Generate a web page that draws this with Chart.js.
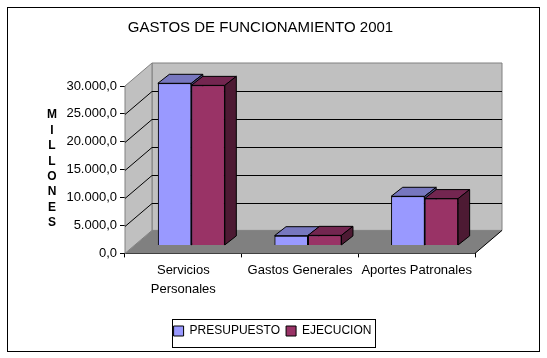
<!DOCTYPE html>
<html>
<head>
<meta charset="utf-8">
<title>Gastos de funcionamiento 2001</title>
<script src="https://cdn.jsdelivr.net/npm/chart.js@4"></script>
<style>
html, body { margin: 0; padding: 0; background: #fff; }
canvas { display: block; }
</style>
</head>
<body>
<canvas id="chart" width="547" height="358"></canvas>
<script>
const categories = [['Servicios', 'Personales'], 'Gastos Generales', 'Aportes Patronales'];
const presupuesto = [29050, 1740, 8800];
const ejecucion = [28680, 1800, 8390];
const yTicks = [0, 5000, 10000, 15000, 20000, 25000, 30000];
const yLetters = ['M', 'I', 'L', 'L', 'O', 'N', 'E', 'S'];
const chartTitle = 'GASTOS DE FUNCIONAMIENTO 2001';

const font = 'Liberation Sans, Arial, sans-serif';
const wallDepth = { x: 27, y: 23 };
const barOffset = { x: 8, y: 8 };
const barDepth = { x: 11.5, y: 9 };
const topColors = ['#7777BF', '#732650'];
const sideColors = ['#4D4D80', '#4D1A33'];

function poly(ctx, pts, fill, stroke) {
    ctx.beginPath();
    pts.forEach((p, i) => i ? ctx.lineTo(p[0], p[1]) : ctx.moveTo(p[0], p[1]));
    ctx.closePath();
    if (fill) { ctx.fillStyle = fill; ctx.fill(); }
    if (stroke) { ctx.strokeStyle = stroke; ctx.lineWidth = 1; ctx.stroke(); }
}

// back wall, side wall, floor and the grid lines that run over them
const wallsPlugin = {
    id: 'walls',
    // title and legend are centred on the frame, not on the plot
    afterLayout(chart) {
        chart.titleBlock.left = 0;
        chart.titleBlock.right = 521;
        chart.legend.left = 153;
        chart.legend.right = 392;
    },
    beforeDatasetsDraw(chart) {
        const ctx = chart.ctx;
        const a = chart.chartArea;
        const dx = wallDepth.x, dy = wallDepth.y;
        const y = chart.scales.y;
        poly(ctx, [[a.left + dx, a.top - dy], [a.right + dx, a.top - dy], [a.right + dx, a.bottom - dy], [a.left + dx, a.bottom - dy]], '#C0C0C0', '#808080');
        poly(ctx, [[a.left, a.top], [a.left + dx, a.top - dy], [a.left + dx, a.bottom - dy], [a.left, a.bottom]], '#C0C0C0', '#808080');
        poly(ctx, [[a.left, a.bottom], [a.left + dx, a.bottom - dy], [a.right + dx, a.bottom - dy], [a.right, a.bottom]], '#808080');
        ctx.strokeStyle = '#000';
        ctx.lineWidth = 1;
        ctx.beginPath();
        yTicks.forEach(v => {
            if (v === 0 || v === yTicks[yTicks.length - 1]) return;
            const py = Math.round(y.getPixelForValue(v)) + 0.5;
            ctx.moveTo(a.left, py);
            ctx.lineTo(a.left + dx, py - dy);
            ctx.lineTo(a.right + dx, py - dy);
        });
        ctx.moveTo(a.right, a.bottom);
        ctx.lineTo(a.right + dx, a.bottom - dy);
        ctx.stroke();
        ctx.save();
        ctx.translate(barOffset.x, -barOffset.y);
    },
    // the library draws the front faces, the top and side faces are added here
    afterDatasetsDraw(chart) {
        const ctx = chart.ctx;
        const dx = barDepth.x, dy = barDepth.y;
        chart.data.datasets.forEach((ds, i) => {
            chart.getDatasetMeta(i).data.forEach(bar => {
                const l = bar.x - bar.width / 2;
                const r = bar.x + bar.width / 2;
                poly(ctx, [[l, bar.y], [l + dx, bar.y - dy], [r + dx, bar.y - dy], [r, bar.y]], topColors[i], '#000');
                poly(ctx, [[r, bar.y], [r + dx, bar.y - dy], [r + dx, bar.base - dy], [r, bar.base]], sideColors[i], '#000');
                bar.draw(ctx);
            });
        });
        ctx.restore();
    },
    afterDraw(chart) {
        const ctx = chart.ctx;
        // outer frame
        ctx.strokeStyle = '#000';
        ctx.lineWidth = 1;
        ctx.strokeRect(7.5, 7.5, 532, 344);
        // legend frame
        const lg = chart.legend;
        ctx.strokeRect(172.5, Math.round(lg.top) + 0.5, 203, Math.round(lg.bottom - lg.top));
        // vertical axis title, letter by letter
        ctx.fillStyle = '#000';
        ctx.font = 'bold 12px ' + font;
        ctx.textAlign = 'center';
        ctx.textBaseline = 'middle';
        yLetters.forEach((c, i) => ctx.fillText(c, 52, 115 + i * 15.4));
    }
};

new Chart(document.getElementById('chart'), {
    type: 'bar',
    data: {
        labels: categories,
        datasets: [
            { label: 'PRESUPUESTO', data: presupuesto, backgroundColor: '#9999FF', borderColor: '#000', borderWidth: 1, clip: false },
            { label: 'EJECUCION', data: ejecucion, backgroundColor: '#993366', borderColor: '#000', borderWidth: 1, clip: false }
        ]
    },
    options: {
        responsive: false,
        animation: false,
        layout: { padding: { left: 8, right: 72, top: 0, bottom: 11 } },
        datasets: { bar: { categoryPercentage: 0.574, barPercentage: 1 } },
        plugins: {
            tooltip: { enabled: false },
            title: {
                display: true,
                text: chartTitle,
                color: '#000',
                font: { family: font, size: 15, weight: 'normal' },
                padding: { top: 19, bottom: 49 }
            },
            legend: {
                position: 'bottom',
                labels: {
                    color: '#000',
                    font: { family: font, size: 12 },
                    boxWidth: 10,
                    boxHeight: 10,
                    padding: 6
                }
            }
        },
        scales: {
            x: {
                afterFit(s) { s.height = 65.6; },
                border: { color: '#000' },
                grid: { display: true, drawOnChartArea: false, color: '#000', tickLength: 4 },
                ticks: { color: '#000', font: { family: font, size: 13, lineHeight: 1.45 }, padding: 4, autoSkip: false, maxRotation: 0 }
            },
            y: {
                min: 0,
                max: 30000,
                afterFit(s) { s.width = 117; },
                afterBuildTicks(s) { s.ticks = yTicks.map(v => ({ value: v })); },
                border: { color: '#000' },
                grid: { display: true, drawOnChartArea: false, color: '#000', tickLength: 5 },
                ticks: {
                    color: '#000',
                    font: { family: font, size: 13 },
                    padding: 3,
                    callback: v => v.toLocaleString('de-DE', { minimumFractionDigits: 1, maximumFractionDigits: 1 })
                }
            }
        }
    },
    plugins: [wallsPlugin]
});
</script>
</body>
</html>
